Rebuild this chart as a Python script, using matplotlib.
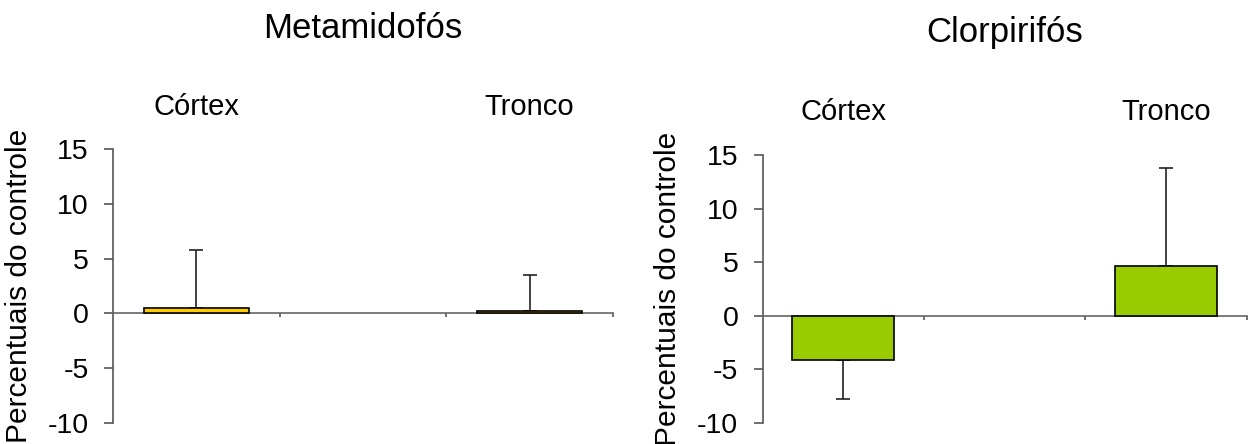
import matplotlib.pyplot as plt
import numpy as np

plt.rcParams['font.family'] = ['Liberation Sans', 'DejaVu Sans']

# Percent of control, one bar per tissue; the middle slot is left empty
tissues = ['Córtex', 'Tronco']
positions = [0, 2]

meta_vals = [0.5, 0.2]
meta_err = [5.3, 3.3]

clor_vals = [-4.1, 4.6]
clor_err = [3.7, 9.2]

yticks = [-10, -5, 0, 5, 10, 15]


def draw_panel(ax, vals, errs, color, title, title_y, label_y, ylabel_x):
    vals = np.array(vals)
    errs = np.array(errs)
    # error bar only on the side the bar points to
    lower = np.where(vals < 0, errs, 0)
    upper = np.where(vals >= 0, errs, 0)
    ax.bar(positions, vals, width=0.63, color=color, edgecolor='black',
           linewidth=1.2, zorder=3)
    ax.errorbar(positions, vals, yerr=[lower, upper], fmt='none',
                ecolor='#222222', elinewidth=1.2, capsize=5, capthick=1.2,
                zorder=2)

    ax.set_xlim(-0.5, 2.5)
    ax.set_ylim(-10, 15)
    ax.set_yticks(yticks)
    ax.set_yticklabels([str(t) for t in yticks], fontsize=20.5)
    ax.tick_params(axis='y', length=6.5, width=1.2, color='#555555', pad=11)

    ax.set_xticks([0.5, 1.5, 2.5])
    ax.set_xticklabels([])
    ax.tick_params(axis='x', length=3, width=1.2, color='#555555')

    for side in ['top', 'right']:
        ax.spines[side].set_visible(False)
    ax.spines['bottom'].set_position(('data', 0))
    ax.spines['bottom'].set_color('#666666')
    ax.spines['bottom'].set_linewidth(1.2)
    ax.spines['left'].set_color('#555555')
    ax.spines['left'].set_linewidth(1.2)

    ax.set_ylabel('Percentuais do controle', fontsize=21.5)
    ax.yaxis.set_label_coords(ylabel_x, 0.5)

    for pos, name in zip(positions, tissues):
        ax.text(pos, label_y, name, transform=ax.get_xaxis_transform(),
                ha='center', va='center', fontsize=21)
    ax.text(0.5, title_y, title, transform=ax.transAxes,
            ha='center', va='center', fontsize=25)


fig = plt.figure(figsize=(12.56, 4.44), dpi=100)
ax1 = fig.add_axes([0.090, 0.0473, 0.398, 0.6171])
ax2 = fig.add_axes([0.6072, 0.048, 0.3854, 0.603])

draw_panel(ax1, meta_vals, meta_err, '#FFCC00', 'Metamidofós', 1.44, 1.153, -0.16)
draw_panel(ax2, clor_vals, clor_err, '#99CC00', 'Clorpirifós', 1.456, 1.16, -0.167)

fig.savefig('out.png', dpi=100)
